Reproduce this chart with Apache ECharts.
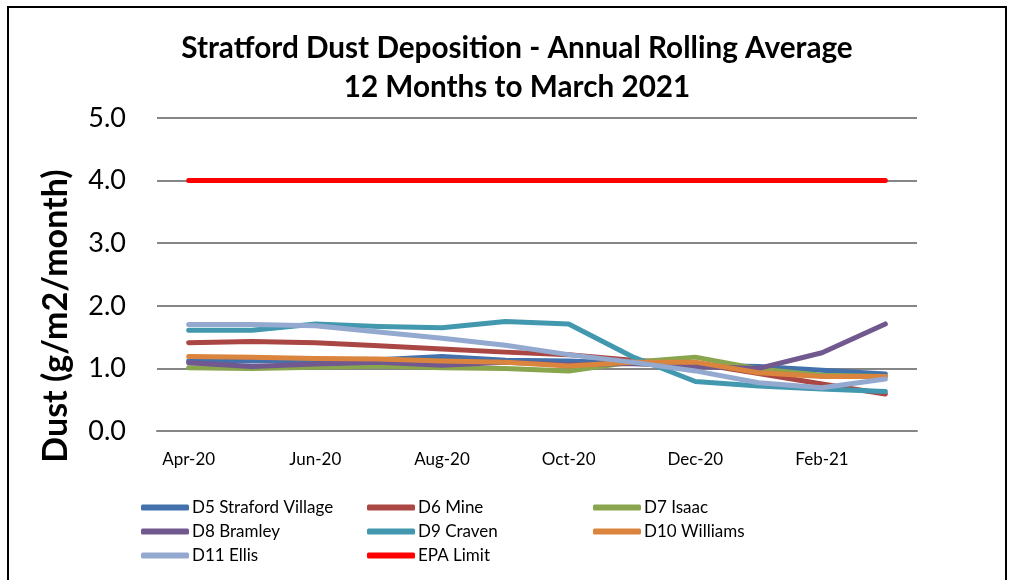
<!DOCTYPE html>
<html>
<head>
<meta charset="utf-8">
<script src="https://cdn.jsdelivr.net/npm/echarts@6/dist/echarts.min.js"></script>
<style>
  html, body { margin: 0; padding: 0; background: #fff; }
  #chart { width: 1010px; height: 580px; }
</style>
</head>
<body>
<div id="chart"></div>
<script>
const months = ['Apr-20', 'May-20', 'Jun-20', 'Jul-20', 'Aug-20', 'Sep-20',
  'Oct-20', 'Nov-20', 'Dec-20', 'Jan-21', 'Feb-21', 'Mar-21']

const d5 = [1.12, 1.12, 1.13, 1.14, 1.19, 1.13, 1.12, 1.08, 1.05, 1.03, 0.97, 0.91]
const d6 = [1.41, 1.43, 1.41, 1.36, 1.31, 1.26, 1.22, 1.13, 1.08, 0.92, 0.75, 0.59]
const d7 = [1.01, 1.0, 1.02, 1.04, 1.01, 1.0, 0.96, 1.1, 1.18, 0.99, 0.89, 0.87]
const d8 = [1.09, 1.03, 1.07, 1.1, 1.05, 1.1, 1.06, 1.08, 1.03, 1.0, 1.25, 1.71]
const d9 = [1.61, 1.61, 1.71, 1.67, 1.65, 1.75, 1.71, 1.19, 0.79, 0.72, 0.67, 0.63]
const d10 = [1.19, 1.18, 1.16, 1.15, 1.12, 1.1, 1.04, 1.1, 1.1, 0.93, 0.87, 0.87]
const d11 = [1.7, 1.7, 1.68, 1.58, 1.48, 1.37, 1.22, 1.1, 0.96, 0.77, 0.69, 0.83]
const epa = [4, 4, 4, 4, 4, 4, 4, 4, 4, 4, 4, 4]

const seriesList = [
  { name: 'D5 Straford Village', data: d5, color: '#4271AB' },
  { name: 'D6 Mine', data: d6, color: '#AA4643' },
  { name: 'D7 Isaac', data: d7, color: '#89A54E' },
  { name: 'D8 Bramley', data: d8, color: '#71588F' },
  { name: 'D9 Craven', data: d9, color: '#4198AF' },
  { name: 'D10 Williams', data: d10, color: '#DB843D' },
  { name: 'D11 Ellis', data: d11, color: '#93A9CF' },
  { name: 'EPA Limit', data: epa, color: '#FF0000' }
]

const font = 'Lato, "Noto Sans", sans-serif'

function legendCol (left, names) {
  return {
    left: left,
    top: 494,
    orient: 'vertical',
    itemWidth: 48,
    itemHeight: 6,
    itemGap: 7,
    icon: 'roundRect',
    data: names,
    textStyle: { fontFamily: font, fontSize: 17, color: '#000', padding: [0, 0, 0, -2] }
  }
}

const chart = echarts.init(document.getElementById('chart'))
chart.setOption({
  animation: false,
  backgroundColor: '#fff',
  graphic: [{
    type: 'rect',
    shape: { x: 8, y: 7, width: 998, height: 620 },
    style: { fill: 'none', stroke: '#000', lineWidth: 2 }
  }, {
    // y axis title, sits a bit lower than the plot middle
    type: 'text',
    x: 56,
    y: 316,
    rotation: Math.PI / 2,
    style: {
      text: 'Dust (g/m2/month)',
      font: 'bold 34px ' + font,
      fill: '#000',
      align: 'center',
      verticalAlign: 'middle'
    }
  }],
  title: {
    text: 'Stratford Dust Deposition - Annual Rolling Average\n12 Months to March 2021',
    left: 512,
    textAlign: 'center',
    top: 24,
    textStyle: { fontFamily: font, fontSize: 29.7, fontWeight: 'bold', color: '#000', lineHeight: 39 }
  },
  legend: [
    legendCol(136, ['D5 Straford Village', 'D8 Bramley', 'D11 Ellis']),
    legendCol(362, ['D6 Mine', 'D9 Craven', 'EPA Limit']),
    legendCol(588, ['D7 Isaac', 'D10 Williams'])
  ],
  grid: { left: 157, right: 93, top: 118, bottom: 149 },
  xAxis: {
    type: 'category',
    data: months,
    boundaryGap: true,
    axisLine: { lineStyle: { color: '#868686', width: 2 } },
    axisTick: { show: false },
    axisLabel: { interval: 1, color: '#000', fontFamily: font, fontSize: 17, margin: 20 }
  },
  yAxis: {
    type: 'value',
    min: 0,
    max: 5,
    interval: 1,
    axisLine: { show: false },
    axisTick: { show: false },
    axisLabel: {
      color: '#000', fontFamily: font, fontSize: 27, margin: 31,
      formatter: v => v.toFixed(1)
    },
    splitLine: { lineStyle: { color: '#868686', width: 2 } }
  },
  series: seriesList.map(s => ({
    name: s.name,
    type: 'line',
    data: s.data,
    color: s.color,
    symbol: 'none',
    lineStyle: { width: 5, cap: 'round', join: 'round' }
  }))
})
</script>
</body>
</html>
